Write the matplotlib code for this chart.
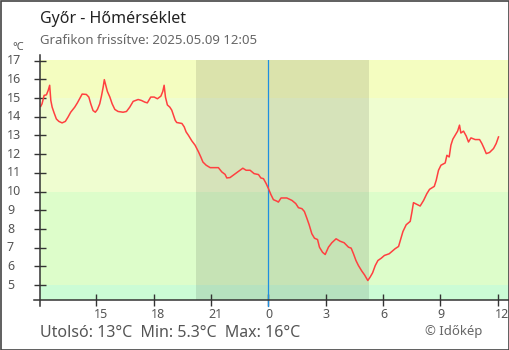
import matplotlib

matplotlib.use("Agg")
import matplotlib.pyplot as plt
from matplotlib.lines import Line2D
from matplotlib.patches import Rectangle
from matplotlib.transforms import blended_transform_factory

plt.rcParams["font.family"] = ["Noto Sans", "DejaVu Sans"]

# hours since midnight of the first day (24 = midnight)
hours = [
    12.08, 12.15, 12.26, 12.38, 12.47, 12.55, 12.61, 12.68, 12.78, 12.90,
    13.03, 13.20, 13.37, 13.51, 13.65, 13.86, 14.00, 14.13, 14.25, 14.47,
    14.60, 14.70, 14.82, 14.94, 15.05, 15.17, 15.26, 15.35, 15.41, 15.49,
    15.57, 15.70, 15.82, 15.96, 16.13, 16.39, 16.57, 16.74, 16.92, 17.18,
    17.35, 17.53, 17.66, 17.84, 18.02, 18.19, 18.37, 18.47, 18.54, 18.61,
    18.71, 18.84, 18.94, 19.12, 19.20, 19.47, 19.59, 19.69, 19.81, 19.99,
    20.16, 20.34, 20.46, 20.57, 20.74, 20.95, 21.38, 21.56, 21.73, 21.82,
    21.99, 22.20, 22.43, 22.66, 22.83, 23.04, 23.25, 23.48, 23.60, 23.74,
    23.88, 24.00, 24.13, 24.26, 24.44, 24.52, 24.66, 24.96, 25.23, 25.43,
    25.57, 25.75, 25.88, 26.01, 26.13, 26.27, 26.41, 26.57, 26.67, 26.83,
    26.97, 27.14, 27.32, 27.54, 27.75, 27.96, 28.19, 28.33, 28.45, 28.58,
    28.71, 28.89, 29.03, 29.20, 29.32, 29.45, 29.59, 29.73, 29.90, 30.07,
    30.32, 30.63, 30.81, 30.93, 31.04, 31.21, 31.42, 31.51, 31.59, 31.77,
    31.94, 32.12, 32.29, 32.43, 32.68, 32.78, 32.90, 33.03, 33.25, 33.34,
    33.46, 33.55, 33.65, 33.77, 33.90, 34.00, 34.07, 34.21, 34.35, 34.47,
    34.60, 34.82, 35.05, 35.17, 35.29, 35.40, 35.57, 35.78, 35.92, 36.04,
]
temps = [
    14.55, 14.69, 15.14, 15.17, 15.40, 15.68, 14.87, 14.51, 14.21, 13.88,
    13.75, 13.67, 13.75, 13.98, 14.24, 14.51, 14.74, 14.99, 15.21, 15.19,
    15.05, 14.69, 14.33, 14.24, 14.39, 14.69, 15.10, 15.58, 15.98, 15.67,
    15.35, 15.05, 14.69, 14.39, 14.28, 14.24, 14.28, 14.51, 14.82, 14.92,
    14.87, 14.78, 14.74, 15.05, 15.05, 14.96, 15.10, 15.35, 15.68, 15.05,
    14.63, 14.51, 14.35, 13.81, 13.69, 13.64, 13.46, 13.19, 13.01, 12.71,
    12.48, 12.12, 11.85, 11.58, 11.41, 11.28, 11.28, 11.05, 10.92, 10.73,
    10.75, 10.91, 11.08, 11.25, 11.14, 11.14, 10.96, 10.91, 10.73, 10.69,
    10.43, 10.16, 9.84, 9.57, 9.49, 9.44, 9.66, 9.66, 9.53, 9.36,
    9.14, 9.09, 8.94, 8.58, 8.23, 7.75, 7.51, 7.44, 7.03, 6.76,
    6.64, 7.03, 7.27, 7.48, 7.35, 7.27, 7.03, 6.98, 6.68, 6.32,
    6.05, 5.75, 5.55, 5.25, 5.43, 5.66, 6.05, 6.32, 6.44, 6.59,
    6.68, 6.95, 7.07, 7.48, 7.87, 8.23, 8.41, 8.91, 9.41, 9.32,
    9.23, 9.53, 9.89, 10.12, 10.28, 10.60, 11.14, 11.41, 11.53, 11.94,
    11.85, 12.48, 12.80, 13.01, 13.23, 13.55, 13.13, 13.23, 12.97, 12.65,
    12.87, 12.78, 12.78, 12.57, 12.30, 12.03, 12.09, 12.30, 12.57, 12.92,
]

x_ticks = [15, 18, 21, 24, 27, 30, 33, 36]
x_labels = ["15", "18", "21", "0", "3", "6", "9", "12"]
y_ticks = [5, 6, 7, 8, 9, 10, 11, 12, 13, 14, 15, 16, 17]

sunset, sunrise = 20.21, 29.27
now = 24.0
bands = [(4.21, 5, "#cbfcd5"), (5, 10, "#ddfdca"), (10, 15, "#effdd0"), (15, 17.03, "#f4fdc0")]

W, H = 510, 350
fig = plt.figure(figsize=(W / 100, H / 100), dpi=100)
L, R, B, T = 40.5, 509, 300, 60
ax = fig.add_axes([L / W, 1 - B / H, (R - L) / W, (B - T) / H])
ax.set_xlim(12.07, 36.59)
ax.set_ylim(4.21, 17.03)

for lo, hi, c in bands:
    ax.axhspan(lo, hi, color=c, lw=0, zorder=0)
ax.axvspan(sunset, sunrise, color="black", alpha=0.1, lw=0, zorder=1)
ax.axvline(now, color="#1e8fe0", lw=0.9, zorder=2, ymin=0, ymax=1)
ax.add_line(Line2D([now, now], [0, -0.025], color="#1e8fe0", lw=0.9,
                   transform=blended_transform_factory(ax.transData, ax.transAxes), clip_on=False))

ax.plot(hours, temps, color="#ff4040", lw=1.1, zorder=3)

for s in ax.spines.values():
    s.set_visible(False)
ax.set_xticks(x_ticks)
ax.set_yticks(y_ticks)
ax.set_xticklabels([])
ax.set_yticklabels([])
ax.tick_params(direction="inout", length=9, width=1, color="#333333")

# axis lines, slightly overshooting the corner
fig.add_artist(Line2D([L / W, L / W], [1 - 306 / H, 1 - 55 / H], color="#333333", lw=1.1))
fig.add_artist(Line2D([34 / W, R / W], [1 - B / H, 1 - B / H], color="#333333", lw=1.1))

ylab_tr = blended_transform_factory(fig.transFigure, ax.transData)
for v in y_ticks:
    fig.text(7 / W, v, str(v), transform=ylab_tr, ha="left", va="center", fontsize=9, color="#555555")
fig.text(12 / W, 1 - 48 / H, "°C", ha="left", va="center", fontsize=8, color="#555555")

xlab_tr = blended_transform_factory(ax.transData, fig.transFigure)
for v, lab in zip(x_ticks, x_labels):
    ax.text(v - 0.15, 1 - 315 / H, lab, transform=xlab_tr, ha="left", va="center", fontsize=9, color="#555555")

fig.text(40 / W, 1 - 19 / H, "Győr - Hőmérséklet", ha="left", va="center", fontsize=11.5, color="#222222")
fig.text(40 / W, 1 - 41 / H, "Grafikon frissítve: 2025.05.09 12:05", ha="left", va="center",
         fontsize=9.5, color="#666666")
fig.text(40 / W, 1 - 333 / H, "Utolsó: 13°C  Min: 5.3°C  Max: 16°C", ha="left", va="center",
         fontsize=11.5, color="#555555")
fig.text(425 / W, 1 - 331 / H, "© Időkép", ha="left", va="center", fontsize=9.5, color="#666666")

fig.add_artist(Rectangle((0.5 / W, 0.5 / H), (W - 1.5) / W, (H - 1.5) / H, transform=fig.transFigure,
                         fill=False, edgecolor="#444444", lw=1.2))

fig.savefig("out.png", dpi=100)
